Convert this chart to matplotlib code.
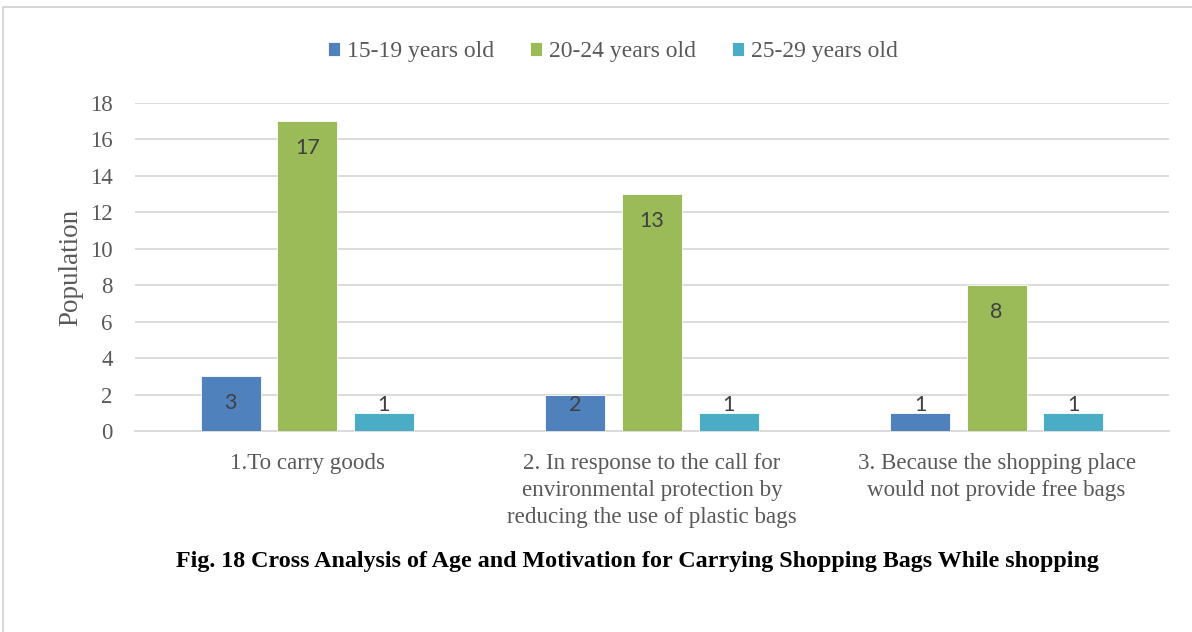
import matplotlib
matplotlib.use("Agg")
import matplotlib.pyplot as plt
from matplotlib.patches import Rectangle
import numpy as np

categories = [
    "1.To carry goods",
    "2. In response to the call for\nenvironmental protection by\nreducing the use of plastic bags",
    "3. Because the shopping place\nwould not provide free bags",
]
series_names = ["15-19 years old", "20-24 years old", "25-29 years old"]
age_15_19 = [3, 2, 1]
age_20_24 = [17, 13, 8]
age_25_29 = [1, 1, 1]
y_ticks = [0, 2, 4, 6, 8, 10, 12, 14, 16, 18]
title = "Fig. 18 Cross Analysis of Age and Motivation for Carrying Shopping Bags While shopping"

colors = ["#4F81BD", "#9BBB59", "#4BACC6"]
serif = "Liberation Serif"

fig = plt.figure(figsize=(11.92, 6.32), dpi=100)
ax = fig.add_axes([135 / 1192, 1 - 431 / 632, 1034 / 1192, 328 / 632])

x = np.arange(len(categories))
width = 0.174
step = 0.222
series = [age_15_19, age_20_24, age_25_29]
for i, (vals, name, c) in enumerate(zip(series, series_names, colors)):
    pos = x + (i - 1) * step
    ax.bar(pos, vals, width=width, color=c, edgecolor="white", linewidth=0.6,
           label=name, zorder=3)
    for px, v in zip(pos, vals):
        ly = max(v - 1.47, 1.4)
        ax.text(px, ly, str(v), ha="center", va="center", fontsize=15.5,
                family="Lato", color="#404040", zorder=4)

ax.set_xlim(-0.5, 2.5)
ax.set_ylim(0, 18)
ax.set_yticks(y_ticks)
ax.set_yticklabels([str(t) for t in y_ticks], family=serif, fontsize=16.5, color="#595959")
ax.set_xticks(x)
ax.set_xticklabels(categories, family=serif, fontsize=16.6, color="#595959",
                   linespacing=1.38, va="top")
ax.tick_params(axis="both", length=0)
ax.tick_params(axis="y", pad=16)
ax.tick_params(axis="x", pad=16)
ax.grid(axis="y", color="#D9D9D9", linewidth=1.3, zorder=0)
for s in ["top", "right", "left"]:
    ax.spines[s].set_visible(False)
ax.spines["bottom"].set_color("#D9D9D9")
ax.spines["bottom"].set_linewidth(1.3)
ax.set_ylabel("Population", family=serif, fontsize=19.5, color="#595959", labelpad=5)

leg = fig.legend(loc="center", bbox_to_anchor=(613 / 1192, 1 - 52 / 632), ncol=3,
                 frameon=False, prop={"family": serif, "size": 17},
                 handlelength=0.5, handleheight=0.5, handletextpad=0.3,
                 columnspacing=1.53)
for t in leg.get_texts():
    t.set_color("#595959")

fig.text(637 / 1192, 1 - 562 / 632, title, ha="center", va="center",
         family=serif, fontsize=17.3, fontweight="bold", color="black")

fig.patches.append(Rectangle((3 / 1192, -0.1), 1.2, 1 - 7 / 632 + 0.1,
                             transform=fig.transFigure, fill=False,
                             edgecolor="#D0D0D0", linewidth=1.2))

fig.savefig("out.png", dpi=100)
